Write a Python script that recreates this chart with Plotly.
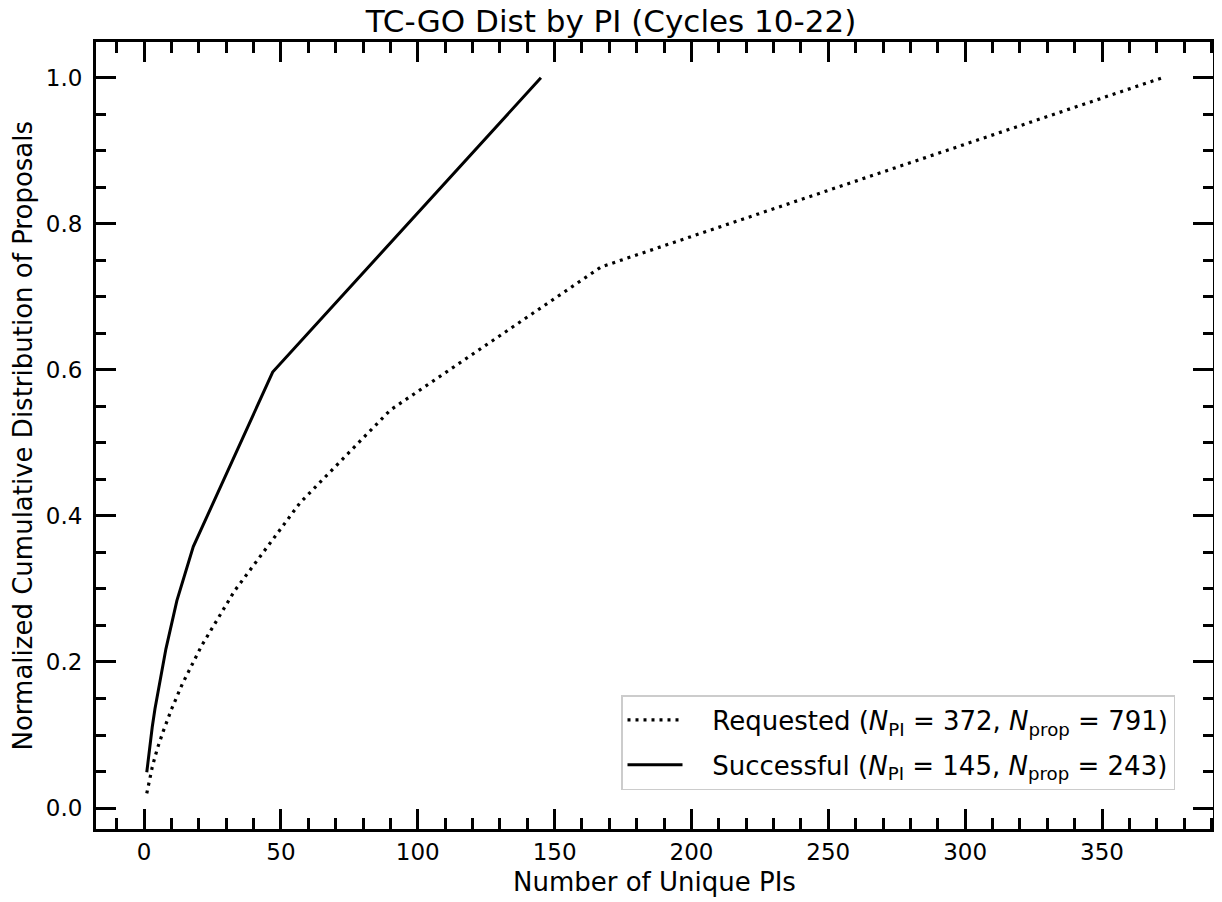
import plotly.graph_objects as go

# Requested proposals: cumulative number of unique PIs vs normalized cumulative fraction of proposals
req_x = [1, 2, 3, 4, 5, 7, 10, 14, 21, 33, 45, 57, 90, 167, 372]
req_y = [0.020, 0.039, 0.056, 0.070, 0.083, 0.105, 0.135, 0.170, 0.222, 0.297, 0.358, 0.418, 0.545, 0.741, 1.0]

# Successful proposals
suc_x = [1, 2, 3, 4, 5, 8, 12, 18, 47, 145]
suc_y = [0.049, 0.082, 0.111, 0.136, 0.156, 0.218, 0.284, 0.358, 0.597, 1.0]

pad = "\u00a0\u00a0\u00a0"
req_name = pad + "Requested (<i>N</i><sub>PI</sub> = 372, <i>N</i><sub>prop</sub> = 791)"
suc_name = pad + "Successful (<i>N</i><sub>PI</sub> = 145, <i>N</i><sub>prop</sub> = 243)"

title = "TC-GO Dist by PI (Cycles 10-22)"
x_title = "Number of Unique PIs"
y_title = "Normalized Cumulative Distribution of Proposals"

FONT = "DejaVu Sans"
OFF = 8  # default page body margin shifts the figure by 8px
W, H = 1222 - OFF, 902 - OFF
L, R, T, B = 96 - OFF, 9, 42 - OFF, 73
PW, PH = W - L - R, H - T - B
BOTTOM = T + PH  # figure px of bottom frame

fig = go.Figure()
fig.add_trace(go.Scatter(x=req_x, y=req_y, mode="lines", name=req_name, legendgroup="req",
                         line=dict(color="black", width=3.2, dash="3px,5px")))
fig.add_trace(go.Scatter(x=suc_x, y=suc_y, mode="lines", name=suc_name, legendgroup="suc",
                         line=dict(color="black", width=3)))

axis_common = dict(
    showline=True, linewidth=3, linecolor="black", mirror="ticks",
    ticks="inside", ticklen=20, tickwidth=2.5, tickcolor="black",
    showgrid=False, zeroline=False, automargin=False,
    tickfont=dict(family=FONT, size=23, color="black"),
)

fig.update_xaxes(range=[-17.55, 390.55], tick0=0, dtick=50,
                 minor=dict(ticks="inside", ticklen=11, tickwidth=2.5, tickcolor="black", dtick=10, tick0=0),
                 **axis_common)
fig.update_yaxes(range=[-0.0287, 1.049], tick0=0, dtick=0.2, tickformat=".1f",
                 ticklabelstandoff=6,
                 minor=dict(ticks="inside", ticklen=10, tickwidth=2.5, tickcolor="black", dtick=0.05, tick0=0),
                 **axis_common)

# Axis titles as annotations for precise placement (target page px minus offset)
fig.add_annotation(text=x_title, xref="paper", yref="paper", x=0.5, y=-((882 - OFF) - BOTTOM) / PH,
                   xanchor="center", yanchor="middle", showarrow=False,
                   font=dict(family=FONT, size=26, color="black"))
fig.add_annotation(text=y_title, xref="paper", yref="paper", x=((22 - OFF) - L) / PW, y=0.5,
                   xanchor="center", yanchor="middle", textangle=-90, showarrow=False,
                   font=dict(family=FONT, size=26, color="black"))

fig.update_layout(
    width=W, height=H,
    margin=dict(l=L, r=R, t=T, b=B),
    paper_bgcolor="white", plot_bgcolor="white",
    title=dict(text=title, x=(611 - OFF) / W, xanchor="center",
               y=(H - (21 - OFF)) / H, yanchor="middle", yref="container",
               font=dict(family=FONT, size=31, color="black")),
    font=dict(family=FONT, size=26, color="black"),
    legend=dict(x=((1175 - OFF) - L) / PW, y=(BOTTOM - (790 - OFF)) / PH, xanchor="right", yanchor="bottom",
                bgcolor="white", bordercolor="#cccccc", borderwidth=1.5,
                font=dict(family=FONT, size=26, color="black"),
                itemwidth=55, tracegroupgap=8),
    showlegend=True,
)

fig.write_html("out.html")
